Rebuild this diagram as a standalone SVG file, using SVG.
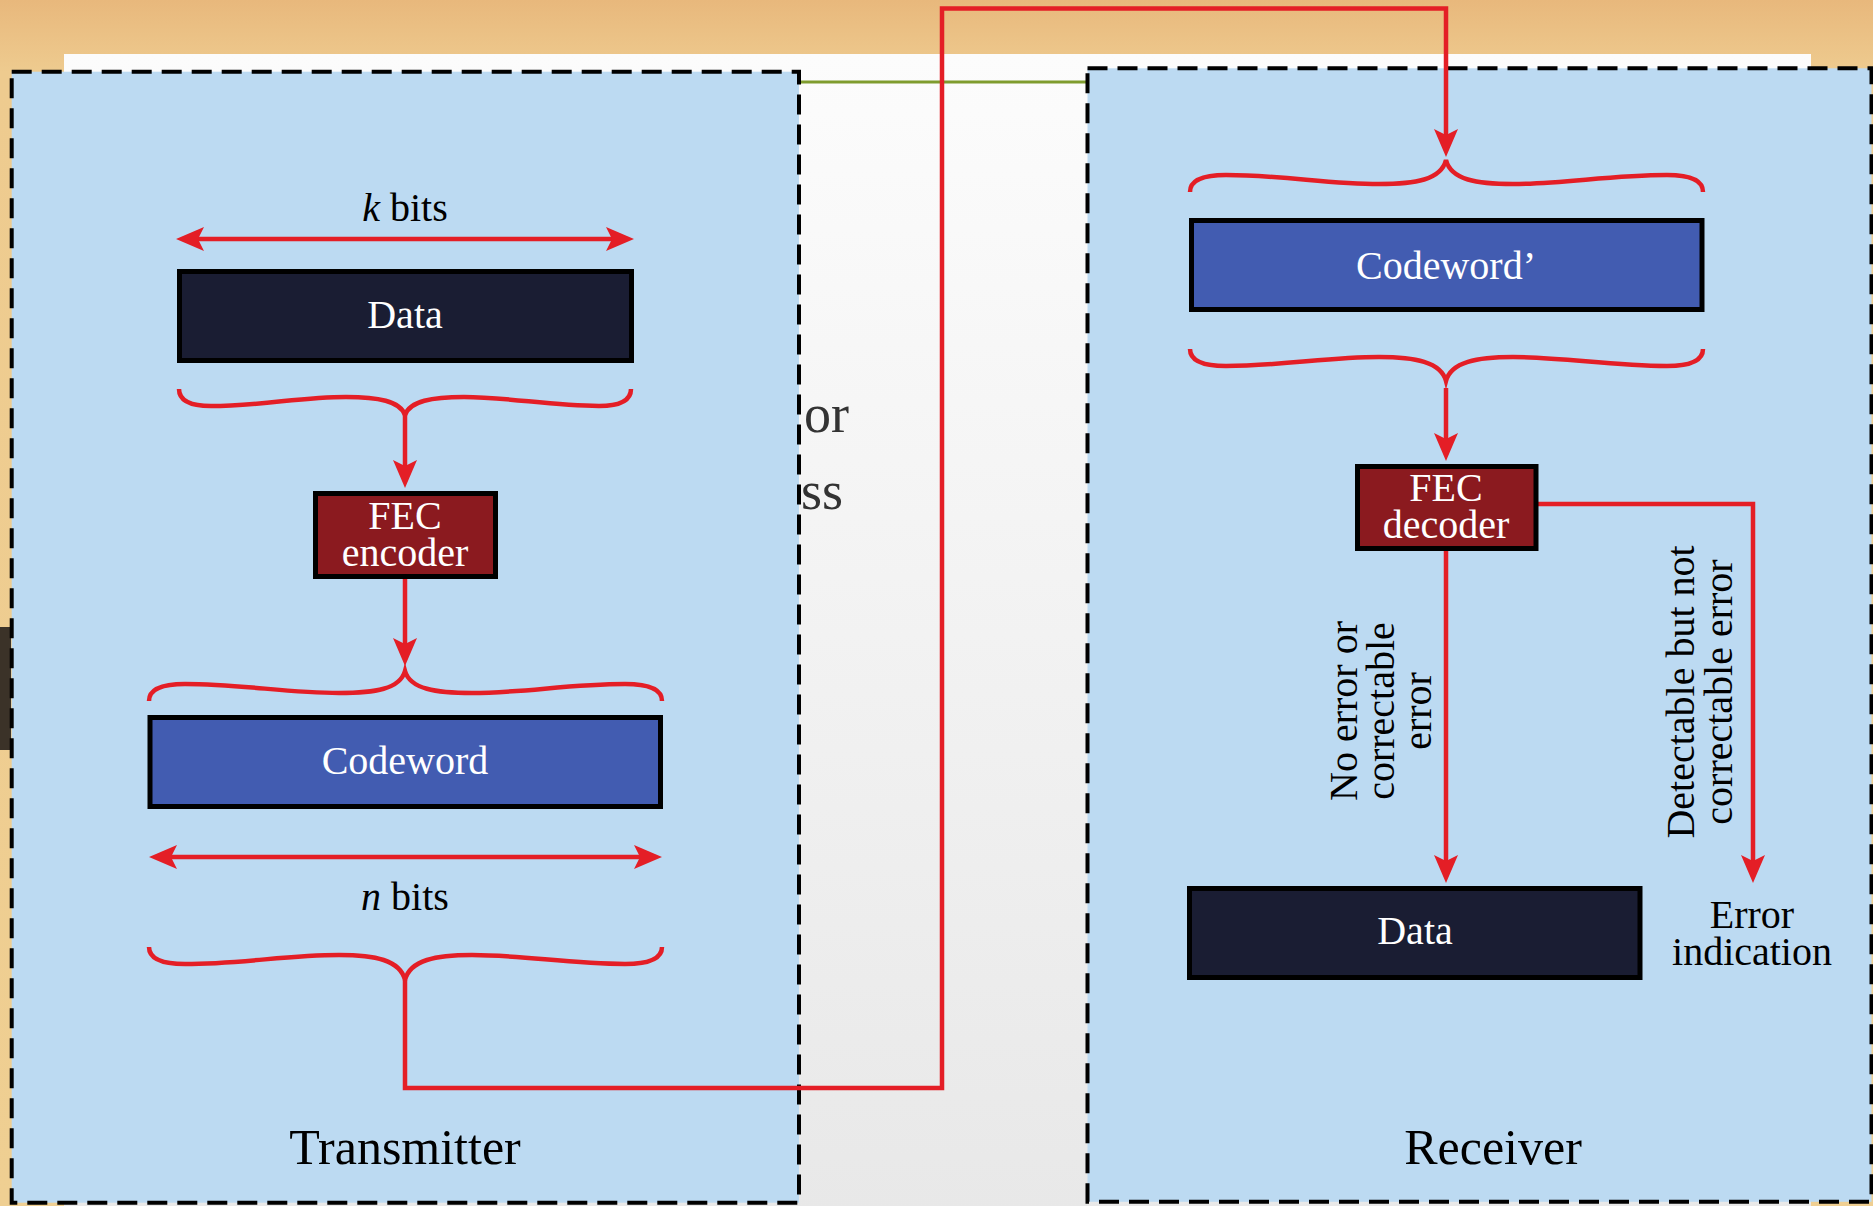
<svg xmlns="http://www.w3.org/2000/svg" width="1873" height="1206" viewBox="0 0 1873 1206">
<defs>
<linearGradient id="tan" x1="0" y1="0" x2="0" y2="1">
<stop offset="0" stop-color="#e8b87c"/>
<stop offset="0.06" stop-color="#eecb8f"/>
<stop offset="1" stop-color="#efcf92"/>
</linearGradient>
<linearGradient id="page" x1="0" y1="0" x2="0" y2="1">
<stop offset="0" stop-color="#fcfcfc"/>
<stop offset="1" stop-color="#e8e8e8"/>
</linearGradient>
<marker id="ah" markerUnits="userSpaceOnUse" viewBox="-22 -14 32 28" markerWidth="32" markerHeight="28" refX="0" refY="0" orient="auto-start-reverse">
<path d="M8,0 L-20,-12 L-14,0 L-20,12 Z" fill="#e41e26"/>
</marker>
<style>
.bg-text{font-family:"Liberation Serif","Times New Roman",serif;font-size:54px;fill:#333}
.panel{fill:#bcdaf2;stroke:#000;stroke-width:4;stroke-dasharray:20 10}
.box{stroke:#000;stroke-width:5}
.data{fill:#1a1d33}
.cw{fill:#425cb1}
.fec{fill:#8b1a1f}
.wt{font-family:"Liberation Serif","Times New Roman",serif;font-size:40px;fill:#fff;text-anchor:middle}
.bt{font-family:"Liberation Serif","Times New Roman",serif;font-size:40px;fill:#000;text-anchor:middle}
.big{font-family:"Liberation Serif","Times New Roman",serif;font-size:50px;fill:#000;text-anchor:middle}
.red{fill:none;stroke:#e41e26;stroke-width:4.5}
.arr{marker-end:url(#ah)}
.dbl{marker-start:url(#ah);marker-end:url(#ah)}
</style>
</defs>

<g id="background">
<rect x="0" y="0" width="1873" height="1206" fill="url(#tan)"/>
<rect x="64" y="54" width="1747" height="1160" fill="url(#page)"/>
<rect x="0" y="627" width="11" height="123" fill="#3b3228"/>
<text class="bg-text" x="849" y="432" text-anchor="end">or</text>
<text class="bg-text" x="843" y="509" text-anchor="end">ss</text>
<line x1="799" y1="82" x2="1088" y2="82" stroke="#7f9c2e" stroke-width="3"/>
</g>

<g id="transmitter">
<rect class="panel" x="11.7" y="71.7" width="787.3" height="1131"/>
<text class="big" x="405" y="1164">Transmitter</text>
</g>

<g id="receiver">
<rect class="panel" x="1087.5" y="68.3" width="784" height="1133.5"/>
<text class="big" x="1493" y="1164">Receiver</text>
</g>

<g id="connectors">
<line class="red dbl" x1="184" y1="239" x2="626" y2="239"/>
<path class="red" d="M179,389 C179,399 188,406 211,406 C260,406 301,397 346,397 C378,397 400,401 405,415 C410,401 432,397 464,397 C509,397 550,406 599,406 C622,406 631,399 631,389"/>
<line class="red arr" x1="405" y1="414" x2="405" y2="480"/>
<line class="red arr" x1="405" y1="579" x2="405" y2="658"/>
<path class="red" d="M149,701 C149,691 159,684 185,684 C241,684 287,693 339,693 C375,693 400,689 405,671 C410,689 436,693 472,693 C523,693 569,684 625,684 C652,684 662,691 662,701"/>
<line class="red dbl" x1="157" y1="857" x2="654" y2="857"/>
<path class="red" d="M149,947 C149,957 159,964 185,964 C241,964 287,955 339,955 C375,955 400,960 405,980 C410,960 436,955 472,955 C523,955 569,964 625,964 C652,964 662,957 662,947"/>
<path class="red arr" d="M405,980 L405,1088 L942,1088 L942,8.5 L1446,8.5 L1446,149"/>
<path class="red" d="M1190,192 C1190,182 1200,175 1226,175 C1282,175 1328,184 1379,184 C1415,184 1441,180 1446,160 C1451,180 1477,184 1513,184 C1564,184 1610,175 1667,175 C1693,175 1703,182 1703,192"/>
<path class="red" d="M1190,349 C1190,359 1200,366 1226,366 C1282,366 1328,357 1379,357 C1415,357 1441,362 1446,381 C1451,362 1477,357 1513,357 C1564,357 1610,366 1667,366 C1693,366 1703,359 1703,349"/>
<line class="red arr" x1="1446" y1="388" x2="1446" y2="453"/>
<line class="red arr" x1="1446" y1="551" x2="1446" y2="875"/>
<path class="red arr" d="M1538,504 L1753,504 L1753,875"/>
</g>

<g id="k-bits">
<text class="bt" x="405" y="221"><tspan font-style="italic">k</tspan> bits</text>
</g>
<g id="data-tx">
<rect class="box data" x="179.5" y="271.5" width="452" height="89"/>
<text class="wt" x="405" y="328">Data</text>
</g>
<g id="fec-encoder">
<rect class="box fec" x="315.5" y="493.5" width="180" height="83"/>
<text class="wt" x="405" y="529">FEC</text>
<text class="wt" x="405" y="566">encoder</text>
</g>
<g id="codeword-tx">
<rect class="box cw" x="150" y="717.5" width="510.5" height="89"/>
<text class="wt" x="405" y="774">Codeword</text>
</g>
<g id="n-bits">
<text class="bt" x="405" y="910"><tspan font-style="italic">n</tspan> bits</text>
</g>

<g id="codeword-rx">
<rect class="box cw" x="1191.5" y="220.5" width="510.5" height="89"/>
<text class="wt" x="1446" y="279">Codeword’</text>
</g>
<g id="fec-decoder">
<rect class="box fec" x="1357.5" y="466.5" width="178.5" height="82"/>
<text class="wt" x="1446" y="501">FEC</text>
<text class="wt" x="1446" y="538">decoder</text>
</g>
<g id="label-no-error">
<text class="bt" transform="translate(1357,711) rotate(-90)"><tspan x="0" y="0">No error or</tspan><tspan x="0" y="37">correctable</tspan><tspan x="0" y="74">error</tspan></text>
</g>
<g id="label-detectable">
<text class="bt" transform="translate(1694,692) rotate(-90)"><tspan x="0" y="0">Detectable but not</tspan><tspan x="0" y="38">correctable error</tspan></text>
</g>
<g id="data-rx">
<rect class="box data" x="1189.5" y="888.5" width="450.5" height="89"/>
<text class="wt" x="1415" y="944">Data</text>
</g>
<g id="error-indication">
<text class="bt" x="1752" y="928">Error</text>
<text class="bt" x="1752" y="965">indication</text>
</g>
</svg>
